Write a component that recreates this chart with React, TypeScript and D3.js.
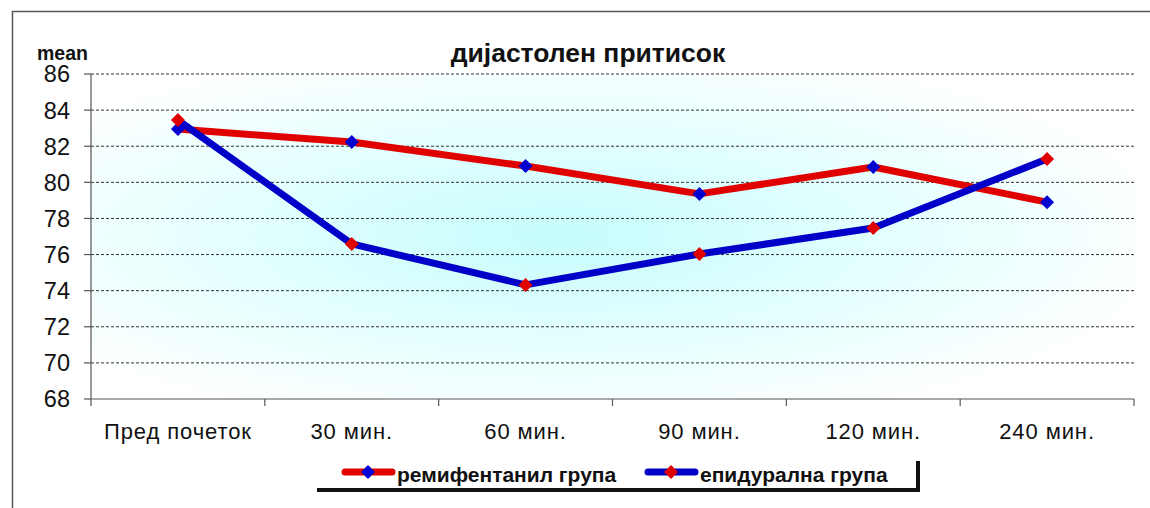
import React from "react";
import * as d3 from "d3";

const categories = ["Пред почеток", "30 мин.", "60 мин.", "90 мин.", "120 мин.", "240 мин."];
const remifentanil = [82.95, 82.23, 80.9, 79.36, 80.85, 78.9];
const epidural = [83.45, 76.59, 74.32, 76.03, 77.47, 81.29];
const yTicks = [68, 70, 72, 74, 76, 78, 80, 82, 84, 86];
const seriesNames = ["ремифентанил група", "епидурална група"];
const title = "дијастолен притисок";
const yLabel = "mean";

const W = 1150;
const H = 508;
const L = 91, R = 1134, T = 74, B = 399;

export default function App() {
  const x = d3.scaleBand<string>().domain(categories).range([L, R]);
  const y = d3.scaleLinear().domain([68, 86]).range([B, T]);
  const cx = (c: string) => (x(c) as number) + x.bandwidth() / 2;
  const line = d3.line<number>().x((_, i) => cx(categories[i])).y((v) => y(v));
  const diamond = (px: number, py: number, s: number) =>
    `M${px},${py - s}L${px + s},${py}L${px},${py + s}L${px - s},${py}Z`;
  const font = "Arial, 'Liberation Sans', sans-serif";
  const series = [
    { data: remifentanil, color: "#e00000", marker: "#0000d0", name: seriesNames[0] },
    { data: epidural, color: "#0000c8", marker: "#e00000", name: seriesNames[1] },
  ];
  const boundaries = categories.map((c) => x(c) as number).concat([R]);
  return (
    <svg width={W} height={H} style={{ position: "absolute", left: 0, top: 0, background: "#fff" }}>
      <defs>
        <radialGradient id="bg" cx="0.45" cy="0.5" r="0.6" gradientUnits="objectBoundingBox">
          <stop offset="0" stopColor="#c6fcfc" />
          <stop offset="0.6" stopColor="#e8ffff" />
          <stop offset="1" stopColor="#ffffff" />
        </radialGradient>
      </defs>
      <rect x={0} y={0} width={W} height={H} fill="#fff" />
      <path d={`M12.5,${H}V11.5H${W}`} fill="none" stroke="#555" strokeWidth={1.5} />
      <rect x={L} y={T} width={R - L} height={B - T} fill="url(#bg)" />
      {yTicks.slice(1).map((t) => (
        <line key={t} x1={L} x2={R} y1={y(t)} y2={y(t)} stroke="#333" strokeWidth={1} strokeDasharray="3,2" />
      ))}
      <line x1={L} x2={L} y1={T} y2={B} stroke="#555" strokeWidth={1.2} />
      <line x1={L} x2={R} y1={B} y2={B} stroke="#555" strokeWidth={1.2} />
      {yTicks.map((t) => (
        <g key={t}>
          <line x1={L - 7} x2={L} y1={y(t)} y2={y(t)} stroke="#555" strokeWidth={1.2} />
          <text x={70} y={y(t)} dy="0.36em" textAnchor="end" fontFamily={font} fontSize={23.5} fill="#111">
            {t}
          </text>
        </g>
      ))}
      {boundaries.map((b, i) => (
        <line key={i} x1={b} x2={b} y1={B} y2={B + 7} stroke="#555" strokeWidth={1.2} />
      ))}
      {categories.map((c) => (
        <text key={c} x={cx(c)} y={439} textAnchor="middle" fontFamily={font} fontSize={22} letterSpacing={0.9} fill="#111">
          {c}
        </text>
      ))}
      <text x={588} y={62} textAnchor="middle" fontFamily={font} fontSize={26.5} fontWeight="bold" fill="#111">
        {title}
      </text>
      <text x={37} y={60} fontFamily={font} fontSize={19.5} fontWeight="bold" fill="#111">
        {yLabel}
      </text>
      {series.map((s, si) => (
        <path key={si} d={line(s.data) as string} fill="none" stroke={s.color} strokeWidth={7} strokeLinejoin="round" />
      ))}
      {series.map((s, si) =>
        s.data.map((v, i) => (
          <path key={`${si}-${i}`} d={diamond(cx(categories[i]), y(v), 7)} fill={s.marker} />
        ))
      )}
      <path d="M317,490H918V461" fill="none" stroke="#111" strokeWidth={4} />
      {series.map((s, si) => {
        const lx = si === 0 ? 342 : 645;
        return (
          <g key={si}>
            <line x1={lx + 3} x2={lx + 50} y1={472} y2={472} stroke={s.color} strokeWidth={7} strokeLinecap="round" />
            <path d={diamond(lx + 26, 472, 7)} fill={s.marker} />
            <text x={lx + 55} y={482} fontFamily={font} fontSize={21} fontWeight="bold" fill="#111">
              {s.name}
            </text>
          </g>
        );
      })}
    </svg>
  );
}
